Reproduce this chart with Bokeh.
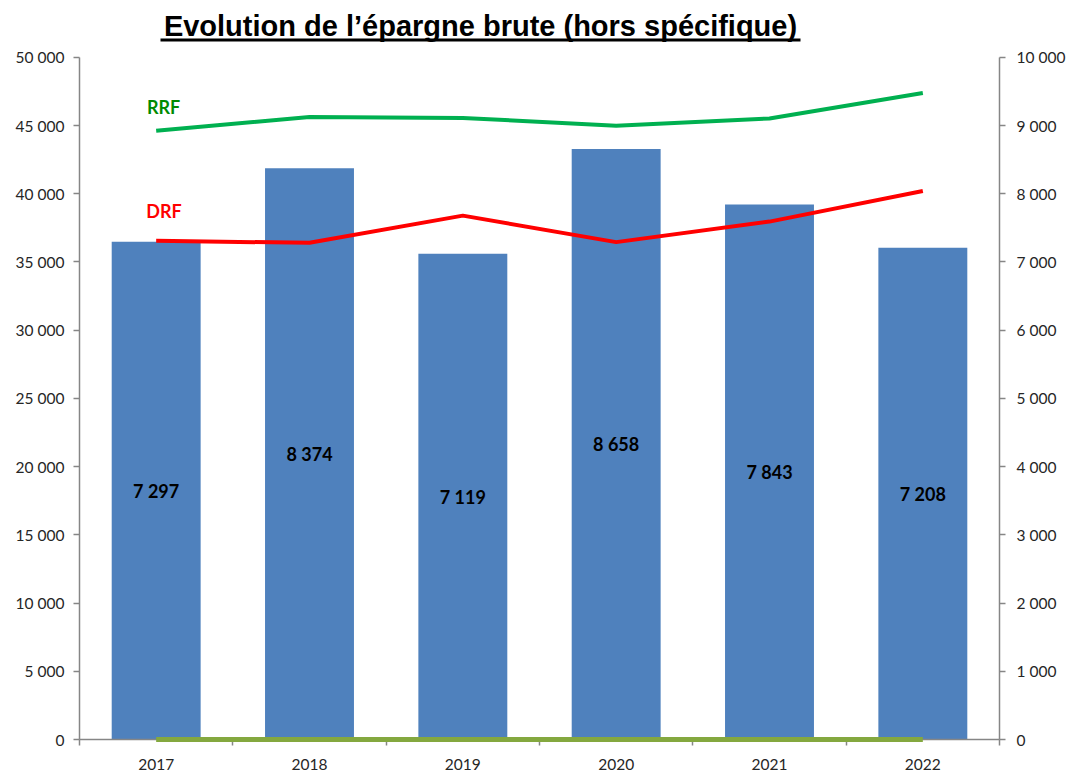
from bokeh.plotting import figure
from bokeh.models import (Range1d, LinearAxis, FixedTicker, CustomJSTickFormatter,
                          Label, BoxAnnotation, ColumnDataSource)
from bokeh.embed import file_html
from bokeh.resources import INLINE
from bokeh.core.properties import value

years = ["2017", "2018", "2019", "2020", "2021", "2022"]
epargne = [7297, 8374, 7119, 8658, 7843, 7208]
rrf = [44613, 45636, 45563, 44978, 45519, 47390]
drf = [36550, 36404, 38399, 36455, 37961, 40205]
zero_series = [0, 0, 0, 0, 0, 0]
left_ticks = [0, 5000, 10000, 15000, 20000, 25000, 30000, 35000, 40000, 45000, 50000]
right_ticks = [0, 1000, 2000, 3000, 4000, 5000, 6000, 7000, 8000, 9000, 10000]

xs = [i + 0.5 for i in range(len(years))]
bar_labels = [f"{v:,}".replace(",", " ") for v in epargne]

src = ColumnDataSource(dict(x=xs, ep=epargne, half=[v / 2 for v in epargne],
                            lab=bar_labels, rrf=rrf, drf=drf, z=zero_series))

# frame spans the full canvas height above the x axis; axis lines are bounded
FRAME_H = 741
AXIS_H = 684
left_max = left_ticks[-1]
right_max = right_ticks[-1]

p = figure(width=1068, height=772, output_backend="svg", toolbar_location=None,
           x_range=Range1d(0, len(years)),
           y_range=Range1d(0, left_max * FRAME_H / AXIS_H),
           min_border_left=79, min_border_right=68, min_border_top=0, min_border_bottom=31)
p.extra_y_ranges = {"right": Range1d(0, right_max * FRAME_H / AXIS_H)}
p.xgrid.visible = False
p.ygrid.visible = False
p.outline_line_color = None
p.background_fill_color = "white"

fmt = CustomJSTickFormatter(code="return Math.round(tick).toString().replace(/\\B(?=(\\d{3})+(?!\\d))/g, ' ');")

axis_color = "#868686"
label_color = "#262626"
tick_font = "Lato"
tick_size = "15.5px"

# left axis
ya = p.yaxis[0]
ya.ticker = FixedTicker(ticks=left_ticks)
ya.formatter = fmt
ya.bounds = (0, left_max)
ya.axis_line_color = axis_color
ya.axis_line_width = 1.5
ya.major_tick_line_color = axis_color
ya.major_tick_line_width = 1.5
ya.major_tick_out = 6
ya.major_tick_in = 0
ya.minor_tick_line_color = None
ya.major_label_text_font = tick_font
ya.major_label_text_font_size = tick_size
ya.major_label_text_color = label_color
ya.major_label_standoff = 9

# right axis
ra = LinearAxis(y_range_name="right", ticker=FixedTicker(ticks=right_ticks), formatter=fmt)
ra.bounds = (0, right_max)
ra.axis_line_color = axis_color
ra.axis_line_width = 1.5
ra.major_tick_line_color = axis_color
ra.major_tick_line_width = 1.5
ra.major_tick_out = 6
ra.major_tick_in = 0
ra.minor_tick_line_color = None
ra.major_label_text_font = tick_font
ra.major_label_text_font_size = tick_size
ra.major_label_text_color = label_color
ra.major_label_standoff = 11
p.add_layout(ra, "right")

# x axis
xa = p.xaxis[0]
xa.ticker = FixedTicker(ticks=xs, minor_ticks=list(range(len(years) + 1)))
xa.formatter = CustomJSTickFormatter(args=dict(years=years),
                                     code="return years[Math.floor(tick)];")
xa.axis_line_color = axis_color
xa.axis_line_width = 1.5
xa.major_tick_line_color = None
xa.major_tick_out = 0
xa.major_tick_in = 0
xa.minor_tick_line_color = axis_color
xa.minor_tick_line_width = 1.5
xa.minor_tick_out = 6
xa.minor_tick_in = 0
xa.major_label_text_font = tick_font
xa.major_label_text_font_size = tick_size
xa.major_label_text_color = label_color
xa.major_label_standoff = 13

# bars
p.vbar(x="x", top="ep", width=0.58, bottom=0, source=src, y_range_name="right",
       fill_color="#4F81BD", line_color=None)
p.text(x="x", y="half", text="lab", source=src, y_range_name="right",
       text_align="center", text_baseline="middle", text_font=value("Lato"),
       text_font_style="bold", text_font_size="18px", text_color="black")

# lines
p.line(x="x", y="z", source=src, line_color="#84A83F", line_width=5, level="overlay")
p.line(x="x", y="drf", source=src, line_color="#FF0000", line_width=4)
p.line(x="x", y="rrf", source=src, line_color="#00B050", line_width=4)

p.add_layout(Label(x=0.44, y=46345, text="RRF", text_font="Lato", text_font_style="bold",
                   text_font_size="18px", text_color="#008A00", text_baseline="middle"))
p.add_layout(Label(x=0.435, y=38743, text="DRF", text_font="Lato", text_font_style="bold",
                   text_font_size="18px", text_color="#FF0000", text_baseline="middle"))

# title with underline
p.add_layout(Label(x=401, y=714, x_units="screen", y_units="screen",
                   text="Evolution de l\u2019épargne brute (hors spécifique)",
                   text_font="Liberation Sans", text_font_style="bold",
                   text_font_size="29px", text_color="black",
                   text_align="center", text_baseline="alphabetic"))
p.add_layout(BoxAnnotation(left=81, right=721, bottom=698, top=701,
                           left_units="screen", right_units="screen",
                           bottom_units="screen", top_units="screen",
                           fill_color="black", fill_alpha=1.0, line_color=None))

open("out.html", "w").write(file_html(p, INLINE))
